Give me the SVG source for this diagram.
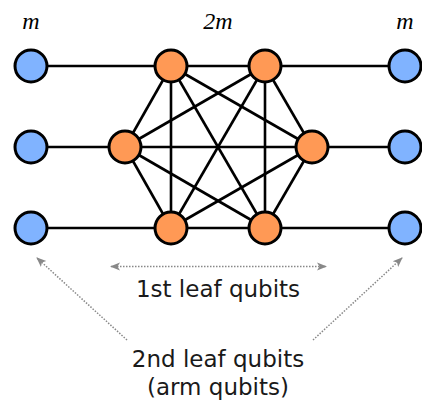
<svg xmlns="http://www.w3.org/2000/svg" width="422" height="400" viewBox="0 0 422 400">
<defs>
<style>
.edge{stroke:#000;stroke-width:2.6;fill:none}
.blue{fill:#80b3ff;stroke:#000;stroke-width:3}
.orange{fill:#ff9955;stroke:#000;stroke-width:3}
.math{font-family:"Liberation Serif","DejaVu Serif",serif;font-style:italic;font-size:24px;fill:#000;text-anchor:middle}
.lbl{font-family:"DejaVu Sans","Verdana",sans-serif;font-size:23px;fill:#1a1a1a;text-anchor:middle}
.dot{stroke:#888;stroke-width:1.5;stroke-dasharray:1.5 1.5;fill:none}
</style>
<marker id="ah" viewBox="0 0 10 10" refX="9" refY="5" markerWidth="10" markerHeight="10" markerUnits="userSpaceOnUse" orient="auto-start-reverse">
<path d="M0,1 L10,5 L0,9 L2.5,5 Z" fill="#888"/>
</marker>
</defs>
<rect width="422" height="400" fill="#fff"/>
<g id="connectors">
<line class="edge" x1="31" y1="66" x2="405" y2="66"/>
<line class="edge" x1="31" y1="147" x2="405" y2="147"/>
<line class="edge" x1="31" y1="228" x2="405" y2="228"/>
<line class="edge" x1="171" y1="66" x2="125" y2="147"/>
<line class="edge" x1="171" y1="66" x2="312" y2="147"/>
<line class="edge" x1="171" y1="66" x2="171" y2="228"/>
<line class="edge" x1="171" y1="66" x2="265" y2="228"/>
<line class="edge" x1="265" y1="66" x2="125" y2="147"/>
<line class="edge" x1="265" y1="66" x2="312" y2="147"/>
<line class="edge" x1="265" y1="66" x2="171" y2="228"/>
<line class="edge" x1="265" y1="66" x2="265" y2="228"/>
<line class="edge" x1="125" y1="147" x2="171" y2="228"/>
<line class="edge" x1="125" y1="147" x2="265" y2="228"/>
<line class="edge" x1="312" y1="147" x2="171" y2="228"/>
<line class="edge" x1="312" y1="147" x2="265" y2="228"/>
<line class="dot" x1="111" y1="266.5" x2="326" y2="266.5" marker-start="url(#ah)" marker-end="url(#ah)"/>
<line class="dot" x1="127" y1="340" x2="37" y2="258" marker-end="url(#ah)"/>
<line class="dot" x1="313" y1="340" x2="402" y2="258" marker-end="url(#ah)"/>
</g>
<g id="b1"><circle class="blue" cx="31" cy="66" r="16"/></g>
<g id="b2"><circle class="blue" cx="31" cy="147" r="16"/></g>
<g id="b3"><circle class="blue" cx="31" cy="228" r="16"/></g>
<g id="b4"><circle class="blue" cx="405" cy="66" r="16"/></g>
<g id="b5"><circle class="blue" cx="405" cy="147" r="16"/></g>
<g id="b6"><circle class="blue" cx="405" cy="228" r="16"/></g>
<g id="o1"><circle class="orange" cx="171" cy="66" r="16"/></g>
<g id="o2"><circle class="orange" cx="265" cy="66" r="16"/></g>
<g id="o3"><circle class="orange" cx="125" cy="147" r="16"/></g>
<g id="o4"><circle class="orange" cx="312" cy="147" r="16"/></g>
<g id="o5"><circle class="orange" cx="171" cy="228" r="16"/></g>
<g id="o6"><circle class="orange" cx="265" cy="228" r="16"/></g>
<g id="labels">
<text class="math" x="31" y="29">m</text>
<text class="math" x="218" y="29">2m</text>
<text class="math" x="405" y="29">m</text>
<text class="lbl" x="218" y="297">1st leaf qubits</text>
<text class="lbl" x="218" y="367">2nd leaf qubits</text>
<text class="lbl" x="218" y="395">(arm qubits)</text>
</g>
</svg>
